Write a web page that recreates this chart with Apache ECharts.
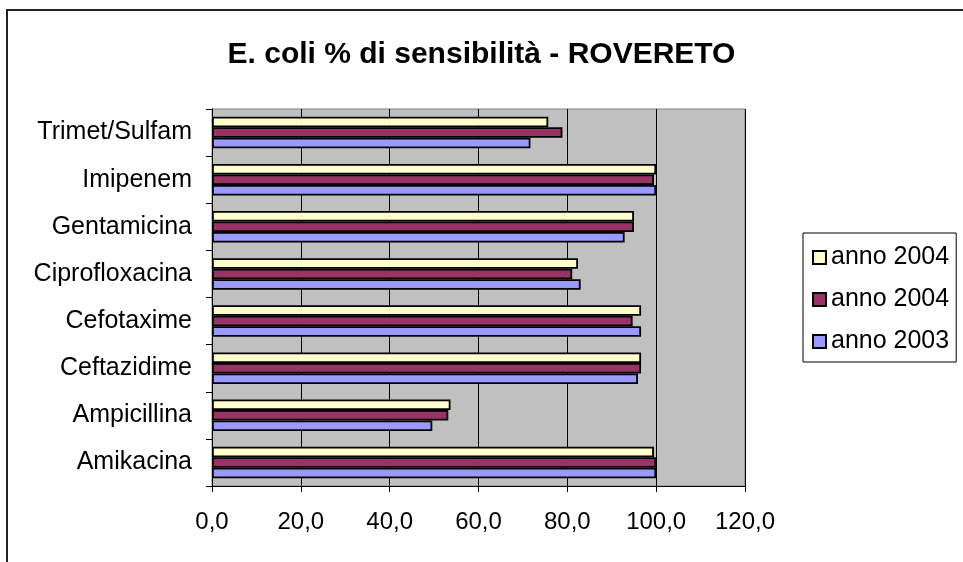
<!DOCTYPE html>
<html>
<head>
<meta charset="utf-8">
<script src="https://cdn.jsdelivr.net/npm/echarts@6/dist/echarts.min.js"></script>
<style>
  html, body { margin: 0; padding: 0; background: #fff; }
  #chart { width: 963px; height: 562px; }
</style>
</head>
<body>
<div id="chart"></div>
<script>
// Antibiotic categories, listed bottom to top along the axis
const categories = ['Amikacina', 'Ampicillina', 'Ceftazidime', 'Cefotaxime',
  'Ciprofloxacina', 'Gentamicina', 'Imipenem', 'Trimet/Sulfam'];

// Sensitivity percentages per year
const anno2003 = [100, 49.6, 95.9, 96.6, 83.0, 92.9, 100, 71.7];
const anno2004b = [100, 53.2, 96.6, 94.7, 81.1, 95.0, 99.5, 78.9];
const anno2004a = [99.5, 53.7, 96.6, 96.6, 82.4, 95.0, 100, 75.7];

// Legend captions (two series share the same year label)
const legendLabels = { s2004a: 'anno 2004', s2004b: 'anno 2004', s2003: 'anno 2003' };

const xTicks = [0, 20, 40, 60, 80, 100, 120];

const FONT = 'Liberation Sans, Arial, sans-serif';

const chart = echarts.init(document.getElementById('chart'), null, { renderer: 'canvas' });

const barStyle = (color) => ({ color: color, borderColor: '#000', borderWidth: 1.8 });

chart.setOption({
  animation: false,
  backgroundColor: '#fff',
  textStyle: { fontFamily: FONT },
  title: {
    text: 'E. coli % di sensibilità - ROVERETO',
    left: 'center',
    top: 35,
    textStyle: { fontSize: 30, fontWeight: 'bold', color: '#000', fontFamily: FONT }
  },
  graphic: [{
    type: 'rect',
    shape: { x: 7, y: 10, width: 1000, height: 600 },
    style: { fill: 'none', stroke: '#222', lineWidth: 2 },
    silent: true
  }],
  legend: {
    orient: 'vertical',
    left: 803,
    top: 233,
    data: ['s2004a', 's2004b', 's2003'],
    formatter: (name) => legendLabels[name],
    icon: 'rect',
    itemWidth: 13,
    itemHeight: 13,
    itemGap: 17,
    padding: [12, 7, 8, 9],
    borderColor: '#000',
    borderWidth: 1,
    backgroundColor: '#fff',
    textStyle: { fontSize: 25, color: '#000', fontFamily: FONT, padding: [0, 0, 0, 0] }
  },
  grid: {
    left: 212, right: 218, top: 109, bottom: 76,
    show: true,
    backgroundColor: '#C0C0C0',
    borderColor: '#808080',
    borderWidth: 1
  },
  xAxis: {
    type: 'value',
    min: xTicks[0],
    max: xTicks[xTicks.length - 1],
    interval: 20,
    axisLine: { show: true, lineStyle: { color: '#000', width: 1 } },
    axisTick: { show: true, length: 6, lineStyle: { color: '#000' } },
    axisLabel: {
      fontSize: 24, color: '#000', margin: 24, fontFamily: FONT,
      formatter: (v) => v.toFixed(1).replace('.', ',')
    },
    splitLine: { show: true, lineStyle: { color: '#000', width: 1 } }
  },
  yAxis: {
    type: 'category',
    data: categories,
    axisLine: { show: true, lineStyle: { color: '#000', width: 1 } },
    axisTick: { show: true, length: 6, lineStyle: { color: '#000' } },
    axisLabel: { fontSize: 25, color: '#000', margin: 20, fontFamily: FONT },
    splitLine: { show: false }
  },
  // Series listed top to bottom within each category group
  series: [
    { name: 's2004a', type: 'bar', data: anno2004a, itemStyle: barStyle('#FFFFCC'),
      barWidth: 10.5, barGap: '0%' },
    { name: 's2004b', type: 'bar', data: anno2004b, itemStyle: barStyle('#993366'),
      barWidth: 10.5, barGap: '0%' },
    { name: 's2003', type: 'bar', data: anno2003, itemStyle: barStyle('#9999FF'),
      barWidth: 10.5, barGap: '0%' }
  ]
});
</script>
</body>
</html>
